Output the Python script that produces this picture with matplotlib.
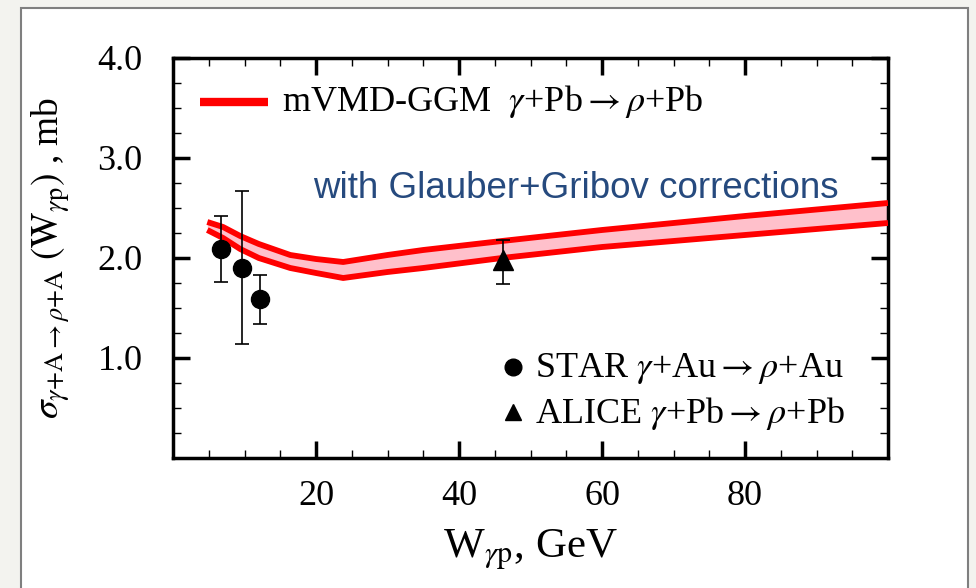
import matplotlib
matplotlib.use("Agg")
import matplotlib.pyplot as plt
from matplotlib.patches import Rectangle
from matplotlib.lines import Line2D
from matplotlib.ticker import MultipleLocator

plt.rcParams['font.family'] = 'serif'
plt.rcParams['font.serif'] = ['Liberation Serif', 'DejaVu Serif']
plt.rcParams['mathtext.fontset'] = 'stix'

# Theory band (mVMD-GGM)
band_w = [4.8, 7, 9.4, 12, 16.4, 20, 23.8, 30, 35, 46, 60, 80, 100]
band_upper = [2.36, 2.31, 2.22, 2.14, 2.03, 1.99, 1.96, 2.03, 2.08, 2.17, 2.28, 2.42, 2.55]
band_lower = [2.28, 2.20, 2.09, 2.00, 1.90, 1.85, 1.80, 1.86, 1.90, 2.00, 2.11, 2.23, 2.35]

# STAR data
star_w = [6.7, 9.6, 12.2]
star_sigma = [2.09, 1.90, 1.59]
star_err_up = [0.33, 0.77, 0.24]
star_err_dn = [0.33, 0.76, 0.25]

# ALICE data
alice_w = [46.2]
alice_sigma = [1.98]
alice_err_up = [0.20]
alice_err_dn = [0.24]

xticks = [20, 40, 60, 80]
yticks = [1.0, 2.0, 3.0, 4.0]
ytick_labels = ['1.0', '2.0', '3.0', '4.0']

fig = plt.figure(figsize=(9.76, 5.88), dpi=100)
fig.patch.set_facecolor('#f3f3ef')
fig.patches.append(Rectangle((21/976, -0.05), (968-21)/976, 1.05 - 8/588,
                             transform=fig.transFigure, facecolor='white',
                             edgecolor='#7f7f7f', linewidth=1.5, zorder=-10))

ax = fig.add_axes([173/976, 1 - 458/588, 715/976, 400/588])
ax.set_zorder(1)
ax.set_xlim(0, 100)
ax.set_ylim(0, 4)

ax.fill_between(band_w, band_lower, band_upper, color='#ffc0cb', lw=0, zorder=2)
ax.plot(band_w, band_upper, color='red', lw=4.2, zorder=3, solid_capstyle='butt',
        solid_joinstyle='round')
ax.plot(band_w, band_lower, color='red', lw=4.2, zorder=3, solid_capstyle='butt',
        solid_joinstyle='round')

ax.errorbar(star_w, star_sigma, yerr=[star_err_dn, star_err_up], fmt='o',
            color='black', ms=13, capsize=5, elinewidth=1.2, capthick=1.2, zorder=5)
ax.errorbar(alice_w, alice_sigma, yerr=[alice_err_dn, alice_err_up], fmt='^',
            color='black', ms=14, capsize=5, elinewidth=1.2, capthick=1.2, zorder=5)

ax.set_xticks(xticks)
ax.set_xticklabels([str(v) for v in xticks])
ax.set_yticks(yticks)
ax.set_yticklabels(ytick_labels)
ax.xaxis.set_minor_locator(MultipleLocator(5))
ax.yaxis.set_minor_locator(MultipleLocator(0.25))
ax.tick_params(which='both', direction='in', top=True, right=True)
ax.tick_params(which='major', length=12, width=2.5, labelsize=26, pad=16)
ax.tick_params(which='minor', length=6, width=1.0)
ax.tick_params(axis='y', which='major', pad=22)
for s in ax.spines.values():
    s.set_linewidth(2.5)

ax.set_xlabel(r'W$_{\gamma\mathrm{p}}$, GeV', fontsize=31, labelpad=10)
ax.set_ylabel(r'$\sigma_{\gamma\mathrm{+A}\rightarrow\rho\mathrm{+A}}\ (\mathrm{W}_{\gamma\mathrm{p}})$ , mb',
              fontsize=27, labelpad=18)

# Top legend (theory)
fig.add_artist(Line2D([200/976, 268/976], [1 - 102/588, 1 - 102/588], transform=fig.transFigure,
                      color='red', lw=6, solid_capstyle='butt', zorder=5))
fig.text(282/976, 1 - 102/588, r'mVMD-GGM  $\gamma$+Pb$\rightarrow\rho$+Pb', fontsize=26,
         va='center', ha='left', zorder=5)

fig.text(313/976, 1 - 188/588, 'with Glauber+Gribov corrections', fontsize=26.5,
         family='Liberation Sans', color='#264a7e', va='center', ha='left', zorder=5)

# Bottom legend (data)
fig.add_artist(Line2D([513/976], [1 - 367/588], marker='o', color='black', ms=12,
                      transform=fig.transFigure, linestyle='none', zorder=5))
fig.text(535/976, 1 - 369/588, r'STAR $\gamma$+Au$\rightarrow\rho$+Au', fontsize=26,
         va='center', ha='left', zorder=5)
fig.add_artist(Line2D([513/976], [1 - 412/588], marker='^', color='black', ms=12,
                      transform=fig.transFigure, linestyle='none', zorder=5))
fig.text(535/976, 1 - 414/588, r'ALICE $\gamma$+Pb$\rightarrow\rho$+Pb', fontsize=26,
         va='center', ha='left', zorder=5)

fig.savefig('out.png', dpi=100)
